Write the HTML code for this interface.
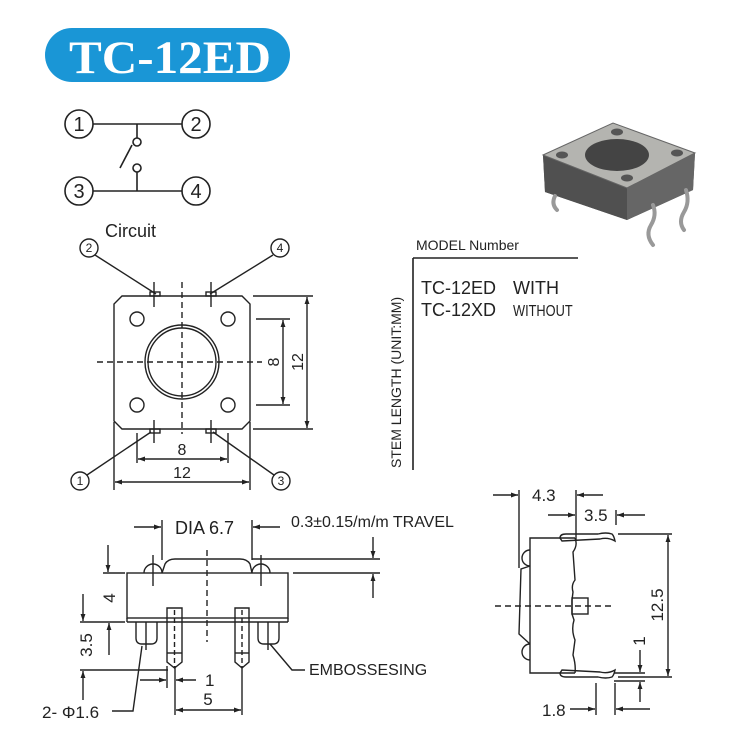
<!DOCTYPE html>
<html><head><meta charset="utf-8"><style>
html,body{margin:0;padding:0;background:#fff;}
svg{display:block;}
text{font-family:"Liberation Sans",sans-serif;fill:#222;}
</style></head><body>
<svg width="735" height="744" viewBox="0 0 735 744" xmlns="http://www.w3.org/2000/svg">
<defs>
<marker id="a" viewBox="0 0 10 10" refX="10" refY="5" markerWidth="9" markerHeight="7" orient="auto-start-reverse" markerUnits="userSpaceOnUse"><path d="M0,1.5 L10,5 L0,8.5 z" fill="#222"/></marker>
</defs>
<rect x="45" y="28" width="245" height="54" rx="27" fill="#1a96d6"/>
<text x="170" y="73" text-anchor="middle" textLength="202" lengthAdjust="spacingAndGlyphs" style="font-family:'Liberation Serif',serif;font-weight:bold;font-size:47px;fill:#fff">TC-12ED</text>

<g stroke="#222" stroke-width="1.6" fill="none">
<circle cx="79" cy="124" r="14"/><circle cx="196" cy="124" r="14"/>
<circle cx="79" cy="191" r="14"/><circle cx="196" cy="191" r="14"/>
<line x1="93" y1="124" x2="182" y2="124"/><line x1="93" y1="191" x2="182" y2="191"/>
<line x1="137" y1="124" x2="137" y2="138"/><circle cx="137" cy="142" r="4"/>
<circle cx="137" cy="168" r="4"/><line x1="137" y1="172" x2="137" y2="191"/>
<line x1="120" y1="168" x2="132" y2="145"/>
</g>
<g font-size="20" text-anchor="middle">
<text x="79" y="131">1</text><text x="196" y="131">2</text><text x="79" y="198">3</text><text x="196" y="198">4</text>
</g>
<text x="105" y="237" font-size="18">Circuit</text>

<g stroke="#222" stroke-width="1.4" fill="none">
<path d="M122,296 L242,296 L250,304 L250,421 L242,429 L122,429 L114,421 L114,304 Z"/>
<circle cx="182" cy="362" r="37"/><circle cx="182" cy="362" r="34"/>
<circle cx="137" cy="319" r="7"/><circle cx="228" cy="319" r="7"/>
<circle cx="137" cy="405" r="7"/><circle cx="228" cy="405" r="7"/>
<rect x="150" y="292" width="10" height="4"/><rect x="206" y="292" width="10" height="4"/>
<rect x="150" y="429" width="10" height="4"/><rect x="206" y="429" width="10" height="4"/>
<line x1="154" y1="282" x2="154" y2="307"/><line x1="211" y1="282" x2="211" y2="307"/>
<line x1="154" y1="420" x2="154" y2="443"/><line x1="211" y1="420" x2="211" y2="443"/>
<line x1="182" y1="282" x2="182" y2="434" stroke-dasharray="6,4"/>
<line x1="97" y1="362" x2="262" y2="362" stroke-dasharray="6,4"/>
<circle cx="89" cy="248" r="9"/><line x1="95" y1="255" x2="156" y2="294"/>
<circle cx="280" cy="248" r="9"/><line x1="273" y1="255" x2="210" y2="294"/>
<circle cx="80" cy="481" r="9"/><line x1="87" y1="475" x2="151" y2="432"/>
<circle cx="281" cy="481" r="9"/><line x1="274" y1="475" x2="213" y2="432"/>
<line x1="253" y1="296" x2="313" y2="296"/><line x1="253" y1="429" x2="313" y2="429"/>
<line x1="307" y1="297" x2="307" y2="428" marker-start="url(#a)" marker-end="url(#a)"/>
<line x1="256" y1="319" x2="290" y2="319"/><line x1="256" y1="405" x2="290" y2="405"/>
<line x1="283" y1="320" x2="283" y2="404" marker-start="url(#a)" marker-end="url(#a)"/>
<line x1="137" y1="433" x2="137" y2="463"/><line x1="228" y1="433" x2="228" y2="463"/>
<line x1="138" y1="459" x2="227" y2="459" marker-start="url(#a)" marker-end="url(#a)"/>
<line x1="114" y1="422" x2="114" y2="490"/><line x1="250" y1="422" x2="250" y2="490"/>
<line x1="115" y1="482" x2="249" y2="482" marker-start="url(#a)" marker-end="url(#a)"/>
</g>
<g font-size="12" text-anchor="middle">
<text x="89" y="252">2</text><text x="280" y="252">4</text><text x="80" y="485">1</text><text x="281" y="485">3</text>
</g>
<g font-size="16" text-anchor="middle">
<text x="182" y="455">8</text><text x="182" y="478">12</text>
<text transform="translate(279,362) rotate(-90)">8</text>
<text transform="translate(303,362) rotate(-90)">12</text>
</g>

<g>
<path d="M543,155 L613,123 L695,153 L693,190 L627,220 L545,192 Z" fill="#555"/>
<path d="M543,155 L627,188 L627,220 L545,192 Z" fill="#505050"/>
<path d="M627,188 L695,153 L693,190 L627,220 Z" fill="#666"/>
<path d="M543,155 L613,123 L695,153 L627,188 Z" fill="#b4b4b0" stroke="#666"/>
<ellipse cx="617" cy="155" rx="32" ry="16" fill="#444"/>
<ellipse cx="617" cy="132" rx="6" ry="3.5" fill="#555"/><ellipse cx="562" cy="155" rx="6" ry="3.5" fill="#555"/>
<ellipse cx="677" cy="153" rx="6" ry="3.5" fill="#555"/><ellipse cx="627" cy="178" rx="6" ry="3.5" fill="#555"/>
<g stroke="#999" stroke-width="4" fill="none" stroke-linecap="round">
<path d="M555,196 q-4,8 2,14"/><path d="M653,205 q4,10 -2,20 q-6,10 2,20"/><path d="M686,190 q4,12 -2,22 q-6,10 0,18"/>
</g>
</g>

<g stroke="#222" stroke-width="1.6"><line x1="413" y1="258" x2="413" y2="470"/><line x1="413" y1="258" x2="578" y2="258"/></g>
<text x="416" y="250" font-size="14">MODEL Number</text>
<text x="421" y="294" font-size="18">TC-12ED</text>
<text x="513" y="294" font-size="18">WITH</text>
<text x="421" y="316" font-size="18">TC-12XD</text>
<text x="0" y="316" font-size="16" transform="translate(513,0) scale(0.8,1)">WITHOUT</text>
<text transform="translate(401,468) rotate(-90)" font-size="14">STEM LENGTH (UNIT:MM)</text>

<g stroke="#222" stroke-width="1.4" fill="none">
<rect x="127" y="573" width="161" height="45"/>
<line x1="127" y1="622" x2="288" y2="622"/><line x1="127" y1="618" x2="127" y2="622"/><line x1="288" y1="618" x2="288" y2="622"/>
<path d="M162,573 L165,564 Q168,559 175,559 L240,559 Q247,559 250,564 L252,573"/>
<path d="M144,573 A9,9 0 0 1 162,573"/><path d="M252,573 A9,9 0 0 1 270,573"/>
<line x1="153" y1="555" x2="153" y2="586"/><line x1="261" y1="555" x2="261" y2="586"/>
<line x1="207" y1="550" x2="207" y2="642" stroke-dasharray="6,4"/>
<path d="M167,608 L182,608 L182,662 L174.5,668 L167,662 Z"/>
<path d="M235,608 L249,608 L249,662 L242,668 L235,662 Z"/>
<line x1="167" y1="653" x2="182" y2="653"/><line x1="235" y1="653" x2="249" y2="653"/>
<line x1="174.5" y1="610" x2="174.5" y2="668" stroke-dasharray="5,3"/><line x1="242" y1="610" x2="242" y2="668" stroke-dasharray="5,3"/>
<path d="M136,622 L136,638 Q136,644 142,644 L151,644 Q157,644 157,638 L157,622"/>
<path d="M258,622 L258,638 Q258,644 264,644 L273,644 Q279,644 279,638 L279,622"/>
<line x1="146" y1="622" x2="146" y2="650"/><line x1="268" y1="622" x2="268" y2="650"/>
<line x1="162" y1="520" x2="162" y2="560"/><line x1="252" y1="520" x2="252" y2="560"/>
<line x1="134" y1="527" x2="161" y2="527" marker-end="url(#a)"/>
<line x1="280" y1="527" x2="253" y2="527" marker-end="url(#a)"/>
<line x1="252" y1="559" x2="380" y2="559"/><line x1="293" y1="573" x2="380" y2="573"/>
<line x1="373" y1="537" x2="373" y2="558" marker-end="url(#a)"/>
<line x1="373" y1="598" x2="373" y2="574" marker-end="url(#a)"/>
<line x1="103" y1="573" x2="125" y2="573"/>
<line x1="108" y1="545" x2="108" y2="572" marker-end="url(#a)"/>
<line x1="80" y1="622" x2="125" y2="622"/>
<line x1="83" y1="594" x2="83" y2="621" marker-end="url(#a)"/>
<line x1="109" y1="655" x2="109" y2="623" marker-end="url(#a)"/>
<line x1="80" y1="670" x2="168" y2="670"/>
<line x1="83" y1="700" x2="83" y2="671" marker-end="url(#a)"/>
<line x1="167" y1="666" x2="167" y2="688"/><line x1="175" y1="666" x2="175" y2="715"/><line x1="242" y1="666" x2="242" y2="715"/>
<line x1="140" y1="680" x2="166" y2="680" marker-end="url(#a)"/>
<line x1="196" y1="680" x2="176" y2="680" marker-end="url(#a)"/>
<line x1="176" y1="710" x2="241" y2="710" marker-start="url(#a)" marker-end="url(#a)"/>
<polyline points="112,711 133,711 142,646"/>
<polyline points="270,644 292,670 305,670"/>
</g>
<text x="175" y="534" font-size="18">DIA 6.7</text>
<text x="291" y="527" font-size="16">0.3±0.15/m/m TRAVEL</text>
<text transform="translate(115,598) rotate(-90)" font-size="17" text-anchor="middle">4</text>
<text transform="translate(92,645) rotate(-90)" font-size="17" text-anchor="middle">3.5</text>
<text x="205" y="686" font-size="17">1</text>
<text x="208" y="705" font-size="17" text-anchor="middle">5</text>
<text x="42" y="718" font-size="17">2- Φ1.6</text>
<text x="309" y="675" font-size="16">EMBOSSESING</text>

<g stroke="#222" stroke-width="1.4" fill="none">
<path d="M575,538 L530,538 L530,673 L575,673"/>
<path d="M575,538 Q578,545 573,552 L575,580 Q571,585 573,592 L572,600 L572,614 L574,620 Q571,630 575,640 L573,655 Q576,665 575,673"/>
<rect x="572" y="598" width="16" height="16"/>
<path d="M530,550 A8,8 0 0 0 530,566"/><path d="M530,644 A8,8 0 0 0 530,660"/>
<path d="M530,566 L521,569 L519,634 L530,644"/>
<path d="M560,538 Q560,534 566,534 L598,534 Q606,532 612,534 Q614,536 615,541 Q608,537 600,539 L562,541 Z"/>
<path d="M560,673 Q560,677 566,677 L598,677 Q606,679 612,677 Q614,675 615,670 Q608,674 600,672 L562,670 Z"/>
<line x1="495" y1="606" x2="612" y2="606" stroke-dasharray="6,4"/>
<line x1="519" y1="490" x2="519" y2="568"/><line x1="576" y1="490" x2="576" y2="540"/>
<line x1="493" y1="495" x2="518" y2="495" marker-end="url(#a)"/>
<line x1="603" y1="495" x2="577" y2="495" marker-end="url(#a)"/>
<line x1="548" y1="515" x2="575" y2="515" marker-end="url(#a)"/>
<line x1="616" y1="510" x2="616" y2="525"/>
<line x1="645" y1="515" x2="617" y2="515" marker-end="url(#a)"/>
<line x1="618" y1="534" x2="672" y2="534"/><line x1="618" y1="677" x2="672" y2="677"/>
<line x1="668" y1="535" x2="668" y2="676" marker-start="url(#a)" marker-end="url(#a)"/>
<line x1="614" y1="673" x2="645" y2="673"/><line x1="614" y1="681" x2="645" y2="681"/>
<line x1="640" y1="650" x2="640" y2="672" marker-end="url(#a)"/>
<line x1="640" y1="702" x2="640" y2="682" marker-end="url(#a)"/>
<line x1="596" y1="683" x2="596" y2="715"/><line x1="615" y1="683" x2="615" y2="715"/>
<line x1="570" y1="709" x2="595" y2="709" marker-end="url(#a)"/>
<line x1="650" y1="709" x2="616" y2="709" marker-end="url(#a)"/>
</g>
<text x="532" y="501" font-size="17">4.3</text>
<text x="584" y="521" font-size="17">3.5</text>
<text transform="translate(663,605) rotate(-90)" font-size="17" text-anchor="middle">12.5</text>
<text transform="translate(645,641) rotate(-90)" font-size="17" text-anchor="middle">1</text>
<text x="542" y="716" font-size="17">1.8</text>
</svg>
</body></html>
